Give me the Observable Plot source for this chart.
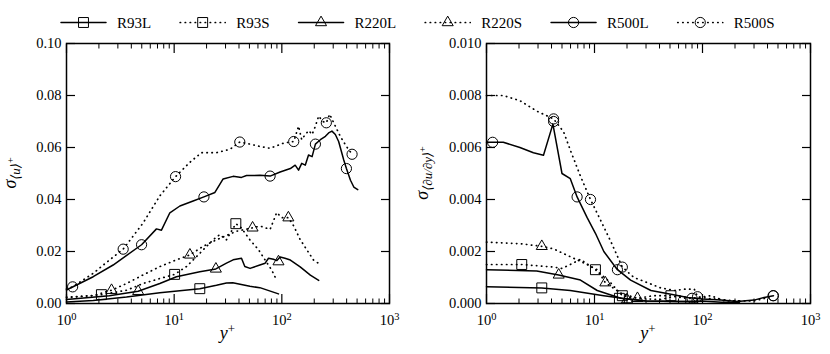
<!DOCTYPE html>
<html><head><meta charset="utf-8">
<script src="https://cdn.jsdelivr.net/npm/d3@7"></script>
<script src="https://cdn.jsdelivr.net/npm/@observablehq/plot@0.6"></script>
<style>
body{margin:0;background:#fff}
#wrap{position:relative;width:830px;height:354px;font-family:"Liberation Serif",serif;overflow:hidden}
#wrap svg{position:absolute;top:0}
#wrap text{font-family:"Liberation Serif","DejaVu Serif",serif}
</style>
</head><body><div id="wrap"></div>
<script>
// ---------- data: [y+, value] ----------
const leftR93L = [[1,0.0006],[1.77,0.0012],[3.61,0.0025],[7.36,0.0041],[17.3,0.0057],[24.7,0.007],[30.6,0.0079],[35,0.008],[50.5,0.0066],[62.5,0.0061],[93.1,0.0037]];
const leftR93S = [[1,0.0022],[2.11,0.0034],[3.61,0.0051],[5.15,0.0077],[7.36,0.0096],[10.1,0.0112],[13.0,0.0142],[17.3,0.0193],[23.0,0.0245],[26.5,0.0265],[30.6,0.0245],[37.4,0.0307],[42.2,0.029],[50.5,0.0245],[60.7,0.0207],[70,0.0167],[80.7,0.0128],[89.7,0.0089]];
const leftR220L = [[1,0.0015],[2.5,0.003],[4.63,0.0047],[7.36,0.0077],[10.5,0.0103],[17.3,0.0122],[24.4,0.0133],[30.6,0.0155],[35.3,0.0168],[42.2,0.0174],[45.3,0.0142],[50.7,0.0135],[62.5,0.0148],[70,0.0155],[75.2,0.0174],[83.6,0.017],[90,0.0165],[96.4,0.0179],[107,0.0174],[120,0.0167],[148,0.0141],[184,0.0109],[220,0.0089]];
const leftR220S = [[1,0.0025],[1.77,0.003],[2.62,0.0051],[3.61,0.0077],[5.15,0.011],[7.36,0.0142],[10.5,0.0168],[14.0,0.0187],[18.6,0.022],[24.7,0.0245],[37.9,0.0278],[53.5,0.0291],[62.8,0.0298],[77.8,0.0285],[89.7,0.035],[100,0.033],[115,0.033],[129,0.0298],[148,0.0246],[171,0.0206],[197,0.0167],[220,0.0154]];
const leftR500L = [[1,0.0052],[1.77,0.0103],[2.71,0.0148],[4.98,0.0226],[6.85,0.0287],[7.62,0.0282],[9.12,0.0349],[11.3,0.0375],[15.0,0.0394],[18.9,0.041],[23.9,0.0427],[28.5,0.0479],[35.3,0.0489],[42.2,0.0485],[47.0,0.0492],[62.8,0.0493],[77.8,0.049],[96.4,0.0506],[120,0.0519],[133,0.0532],[143,0.0513],[153,0.0539],[165,0.0532],[177,0.0571],[191,0.0565],[205,0.0613],[228,0.063],[254,0.0643],[272,0.0656],[292,0.0663],[314,0.065],[337,0.0623],[376,0.0552],[398,0.0519],[434,0.0474],[466,0.0448],[507,0.0438]];
const leftR500S = [[1,0.0056],[1.14,0.0064],[1.77,0.0116],[2.52,0.0168],[3.36,0.0209],[5.15,0.031],[7.36,0.0414],[10.3,0.0488],[14.0,0.0543],[17.9,0.058],[24.7,0.058],[32.9,0.0593],[40.7,0.0621],[50.7,0.0613],[62.5,0.0604],[77.8,0.0597],[104,0.0617],[129,0.0623],[143,0.0682],[153,0.063],[165,0.065],[178,0.0665],[191,0.065],[204,0.068],[220,0.0721],[240,0.07],[259,0.0695],[278,0.0728],[314,0.0682],[349,0.0643],[398,0.0604],[449,0.0574]];

const leftMkR93L = [[17.3,0.0057]];
const leftMkR93S = [[2.11,0.0034],[10.1,0.0112],[37.4,0.0307]];
const leftMkR220L = [[4.63,0.0047],[24.4,0.0133],[93.1,0.0161]];
const leftMkR220S = [[2.62,0.0051],[14.0,0.0187],[53.5,0.0291],[115,0.033]];
const leftMkR500L = [[4.98,0.0226],[18.9,0.041],[77.8,0.049],[205,0.0613],[398,0.0519]];
const leftMkR500S = [[1.14,0.0064],[3.36,0.0209],[10.3,0.0488],[40.7,0.0621],[129,0.0623],[259,0.0695],[449,0.0574]];

const rightR93L = [[1,0.00064],[3.25,0.0006],[5.97,0.0005],[12.2,0.0003],[18.1,0.0002],[30,0.0001],[60,0.00008],[90,0.00006]];
const rightR93S = [[1,0.0015],[2.12,0.0015],[4.18,0.0014],[5.0,0.00135],[5.97,0.0015],[7.41,0.0017],[10.2,0.0013],[14.1,0.0008],[18.1,0.0003],[25,0.0002],[35,0.0003],[50,0.0003],[70,0.0002],[90,0.0002]];
const rightR220L = [[1,0.0013],[2.92,0.00125],[4.66,0.0011],[7.41,0.0009],[10.6,0.0005],[17.5,0.0002],[30,0.0001],[60,0.00008],[100,0.0001],[150,0.00005],[220,0.00005]];
const rightR220S = [[1,0.00236],[2.04,0.0023],[3.25,0.0022],[4.18,0.0021],[5.97,0.0018],[8.55,0.0015],[10.6,0.0013],[12.6,0.0008],[17.5,0.0004],[25,0.0002],[40,0.00015],[60,0.0003],[80,0.0002],[120,0.0003],[160,0.0001],[220,0.0001]];
const rightR500L = [[1,0.0062],[1.43,0.0062],[2.04,0.006],[2.72,0.0058],[3.37,0.0057],[4.12,0.0069],[5.0,0.005],[5.97,0.0048],[6.9,0.0041],[8.55,0.0033],[10.2,0.0027],[12.2,0.002],[16.3,0.0013],[21.6,0.0009],[33.3,0.0005],[51,0.00036],[73,0.00023],[100,0.00017],[148,0.00013],[211,0.00008],[300,0.00013],[372,0.00023],[454,0.0003]];
const rightR500S = [[1,0.008],[1.43,0.008],[2.04,0.0078],[2.92,0.0074],[4.18,0.0071],[5.18,0.0066],[5.97,0.0059],[7.41,0.0049],[9.18,0.004],[11.4,0.0032],[14.1,0.0024],[18.1,0.0014],[23.2,0.001],[31,0.0008],[41,0.0006],[55,0.0005],[68,0.00055],[84,0.00055],[90,0.00026],[110,0.0002],[150,0.00015],[200,0.0001],[300,0.0001],[380,0.0002],[450,0.0003]];

const rightMkR93L = [[3.25,0.0006],[17,0.0002]];
const rightMkR93S = [[2.12,0.0015],[10.2,0.0013],[18.1,0.0003],[51,0.0003]];
const rightMkR220L = [[4.66,0.0011],[20,0.00015]];
const rightMkR220S = [[3.25,0.0022],[12.6,0.0008],[25,0.0002]];
const rightMkR500L = [[1.14,0.0062],[4.18,0.007],[6.9,0.0041],[16.3,0.0013],[80,0.0002],[454,0.0003]];
const rightMkR500S = [[4.18,0.0071],[9.18,0.004],[18.1,0.0014],[90,0.00026],[450,0.0003]];

const seriesNames = ["R93L","R93S","R220L","R220S","R500L","R500S"];
const leftTicks = [0, 0.02, 0.04, 0.06, 0.08, 0.10];
const rightTicks = [0, 0.002, 0.004, 0.006, 0.008, 0.010];
const majorX = [1, 10, 100, 1000];
const minorX = [2,3,4,5,6,7,8,9,20,30,40,50,60,70,80,90,200,300,400,500,600,700,800,900];

// ---------- styles ----------
const FONT = "'Liberation Serif', 'DejaVu Serif', serif";
const symbolOf = n => n.startsWith("R93") ? "square" : n.startsWith("R220") ? "triangle" : "circle";
const rOf = s => s === "square" ? 5.6 : s === "triangle" ? 4.1 : 5.1;
const isDotted = n => n.endsWith("S");
const DASH = "0.4 4.6";

function panel(lines, markers, yTicks, fmt, ml, mr) {
  const marks = [];
  seriesNames.forEach((n, i) => {
    marks.push(Plot.line(lines[i], {x: d => d[0], y: d => d[1], stroke: "black", strokeWidth: isDotted(n) ? 1.7 : 1.5,
      strokeDasharray: isDotted(n) ? DASH : null, strokeLinecap: "round", strokeLinejoin: "round"}));
  });
  seriesNames.forEach((n, i) => {
    const s = symbolOf(n);
    marks.push(Plot.dot(markers[i], {x: d => d[0], y: d => d[1], symbol: s, r: rOf(s), stroke: "black", strokeWidth: 1, fill: "none"}));
  });
  marks.push(
    Plot.frame({stroke: "black", strokeWidth: 1.5}),
    Plot.axisY(yTicks, {anchor: "left", tickSize: 9, dx: 9, fill: "none", label: null, strokeWidth: 1.2}),
    Plot.axisY(yTicks, {anchor: "right", tickSize: 9, dx: -9, fill: "none", label: null, strokeWidth: 1.2}),
    Plot.axisY(yTicks, {anchor: "left", tickSize: 0, tickPadding: 5, tickFormat: fmt, label: null, fill: "black"}),
    Plot.axisX(majorX, {anchor: "bottom", tickSize: 9, dy: -9, fill: "none", label: null, strokeWidth: 1.2}),
    Plot.axisX(majorX, {anchor: "top", tickSize: 9, dy: 9, fill: "none", label: null, strokeWidth: 1.2}),
    Plot.axisX(minorX, {anchor: "bottom", tickSize: 4.5, dy: -4.5, fill: "none", label: null, strokeWidth: 1}),
    Plot.axisX(minorX, {anchor: "top", tickSize: 4.5, dy: 4.5, fill: "none", label: null, strokeWidth: 1}),
    Plot.axisX(majorX, {anchor: "bottom", tickSize: 0, tickPadding: 11, tickFormat: d => "10^" + Math.round(Math.log10(d)), label: null, fill: "black"})
  );
  return Plot.plot({
    width: 415, height: 354, marginLeft: ml, marginRight: mr, marginTop: 43, marginBottom: 51,
    x: {type: "log", domain: [1, 1000]},
    y: {domain: [yTicks[0], yTicks[yTicks.length - 1]]},
    style: {fontFamily: FONT, fontSize: "14.5px", color: "black", background: "transparent", overflow: "visible"},
    marks
  });
}

function decorate(svg, ml, mr, yLabelX, subParts) {
  const s = d3.select(svg);
  s.selectAll('g[aria-label="x-axis tick label"] text').each(function () {
    const t = this.textContent;
    const k = t.split("^")[1];
    const el = d3.select(this);
    el.selectAll("*").remove();
    el.text("10");
    el.append("tspan").attr("dy", "-0.5em").attr("font-size", "0.72em").text(k);
  });
  const cx = ml + (415 - ml - mr) / 2;
  const xl = s.append("text").attr("x", cx).attr("y", 339).attr("text-anchor", "middle")
    .style("font-family", FONT).attr("font-size", 18).attr("fill", "black");
  xl.append("tspan").attr("font-style", "italic").text("y");
  xl.append("tspan").attr("dy", "-0.45em").attr("font-size", "0.72em").text("+");
  const yl = s.append("text").attr("transform", `translate(${yLabelX},173) rotate(-90)`).attr("text-anchor", "middle")
    .style("font-family", FONT).attr("font-size", 18).attr("fill", "black");
  yl.append("tspan").attr("font-style", "italic").text("σ");
  yl.append("tspan").attr("dy", "0.3em").attr("font-size", 13).attr("font-style", "italic").text(subParts[0]);
  yl.append("tspan").attr("dy", "-0.55em").attr("font-size", 10).text(subParts[1]);
}

const wrap = document.getElementById("wrap");
const left = panel([leftR93L, leftR93S, leftR220L, leftR220S, leftR500L, leftR500S],
  [leftMkR93L, leftMkR93S, leftMkR220L, leftMkR220S, leftMkR500L, leftMkR500S], leftTicks, d3.format(".2f"), 66, 26);
left.style.left = "0px";
decorate(left, 66, 26, 16, ["⟨u⟩", "+"]);
wrap.appendChild(left);

const right = panel([rightR93L, rightR93S, rightR220L, rightR220S, rightR500L, rightR500S],
  [rightMkR93L, rightMkR93S, rightMkR220L, rightMkR220S, rightMkR500L, rightMkR500S], rightTicks, d3.format(".3f"), 71, 20);
right.style.left = "415px";
decorate(right, 71, 20, 13, ["⟨∂u/∂y⟩", "+"]);
wrap.appendChild(right);

// ---------- legend ----------
const lg = d3.select(wrap).append("svg").attr("width", 830).attr("height", 40).style("left", "0px");
let lx = 61;
const ly = 22.5;
seriesNames.forEach(n => {
  const g = lg.append("g");
  g.append("line").attr("x1", lx).attr("x2", lx + 45).attr("y1", ly).attr("y2", ly)
    .attr("stroke", "black").attr("stroke-width", isDotted(n) ? 1.7 : 1.5)
    .attr("stroke-linecap", "round").attr("stroke-dasharray", isDotted(n) ? DASH : null);
  const s = symbolOf(n);
  const sym = s === "square" ? d3.symbolSquare : s === "triangle" ? d3.symbolTriangle : d3.symbolCircle;
  const r = rOf(s);
  g.append("path").attr("d", d3.symbol(sym, Math.PI * r * r)()).attr("transform", `translate(${lx + 22.5},${ly})`)
    .attr("fill", "none").attr("stroke", "black").attr("stroke-width", 1);
  const t = g.append("text").attr("x", lx + 56).attr("y", ly).attr("dy", "0.35em")
    .style("font-family", FONT).attr("font-size", 15).attr("fill", "black").text(n);
  lx += 56 + t.node().getComputedTextLength() + 29;
});
</script>
</body></html>
